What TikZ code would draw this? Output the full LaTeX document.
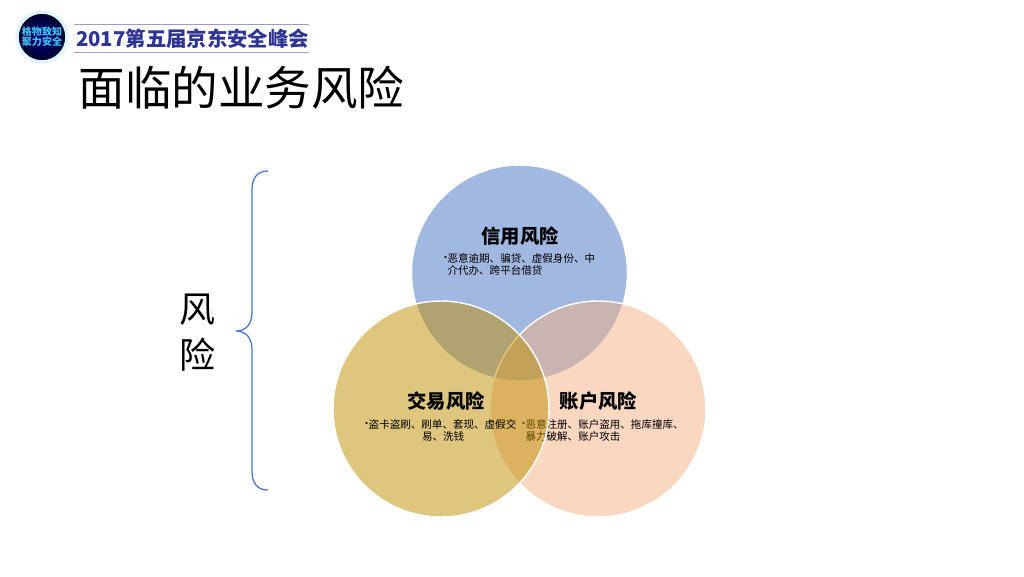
\documentclass[tikz,border=0pt]{standalone}
\usepackage{fontspec}
\setmainfont{Noto Sans CJK SC}
\usepackage{tikz}
\usetikzlibrary{positioning}
\definecolor{headblue}{HTML}{2F3590}
\definecolor{ruleblue}{HTML}{9C9CCB}
\definecolor{braceblue}{HTML}{4472C4}
\definecolor{credit}{HTML}{4472C4}
\definecolor{trade}{HTML}{BF8F00}
\definecolor{account}{HTML}{F4B183}
\newcommand{\itemdot}{\makebox[2.3pt][c]{\raisebox{0.8pt}{•}}}

\begin{document}
\begin{tikzpicture}[
        x=0.02cm, y=-0.02cm,
        basic/.style   = {inner sep=0pt, outer sep=0pt},
        risk/.style    = {circle, minimum size=216*0.02cm, draw=white, line width=0.8pt, fill opacity=0.5, draw opacity=1},
        heading/.style = {basic, font=\fontsize{11}{13}\selectfont\bfseries, text=black},
        detail/.style  = {basic, font=\fontsize{6}{6.8}\selectfont, text=black, text width=158*0.02cm},
        badge/.style   = {basic, font=\fontsize{5.7}{5.9}\selectfont\bfseries, text=cyan!75!white, align=center},
        rulehead/.style = {ruleblue, line width=0.5pt}]

        \useasboundingbox (0,0) rectangle (1024,576);
        \fill[white] (0,0) rectangle (1024,576);

        % badge and conference header
        \node[circle, basic, minimum size=50*0.02cm, draw=cyan!12, line width=2pt, inner color=blue!50!black, outer color=black!85!blue] (badge) at (42,37) {};
        \node[badge] (badgetext) at (badge.center) {格物致知\\聚力安全};
        \node[basic, anchor=west, font=\fontsize{11.6}{14}\selectfont\bfseries, text=headblue] (conf) at (76,38.5) {2017第五届京东安全峰会};
        \coordinate (rule1a) at (74,24.5);
        \coordinate (rule1b) at (309,24.5);
        \coordinate (rule2a) at (74,52.5);
        \coordinate (rule2b) at (309,52.5);
        \draw[rulehead] (rule1a) -- (rule1b);
        \draw[rulehead] (rule2a) -- (rule2b);

        % page title
        \node[basic, anchor=west, font=\fontsize{26.5}{30}\selectfont, text=black] (title) at (78.5,87.5) {面临的业务风险};

        % bracket on the left with its label
        \node[basic, font=\fontsize{20.5}{26}\selectfont, align=center, text=black] (risklabel) at (198,332.5) {风\\险};
        \coordinate (bracetop) at (268,171);
        \coordinate (bracetip) at (236,331);
        \coordinate (bracebot) at (268,490);
        \draw[braceblue, line width=0.7pt] (bracetop) .. controls (258,171) and (252,177) .. (252,190)
            -- (252,312) .. controls (252,324) and (246,331) .. (bracetip)
            .. controls (246,331) and (252,338) .. (252,350)
            -- (252,471) .. controls (252,484) and (258,490) .. (bracebot);

        % circles and their texts, each later circle lies over the earlier texts
        \node[risk, fill=credit] (creditrisk) at (519.5,273) {};
        \node[heading] (credithead) at (520,236.5) {信用风险};
        \node[detail, align=left, anchor=north west] (creditdetail) at (443.5,254) {\itemdot 恶意逾期、骗贷、虚假身份、中\\\hspace*{2.3pt}介代办、跨平台借贷};

        \node[risk, fill=account] (accountrisk) at (598,409) {};
        \node[heading] (accounthead) at (598.5,401) {账户风险};
        \node[detail, align=left, anchor=north west] (accountdetail) at (521.5,419.5) {\itemdot 恶意注册、账户盗用、拖库撞库、\\\hspace*{2.3pt}暴力破解、账户攻击};

        \node[risk, fill=trade] (traderisk) at (441,409) {};
        \node[heading] (tradehead) at (446,401) {交易风险};
        \node[detail, align=center, anchor=north west] (tradedetail) at (361.5,419.5) {\itemdot 盗卡盗刷、刷单、套现、虚假交\\\hspace*{3pt}易、洗钱};

\end{tikzpicture}
\end{document}
